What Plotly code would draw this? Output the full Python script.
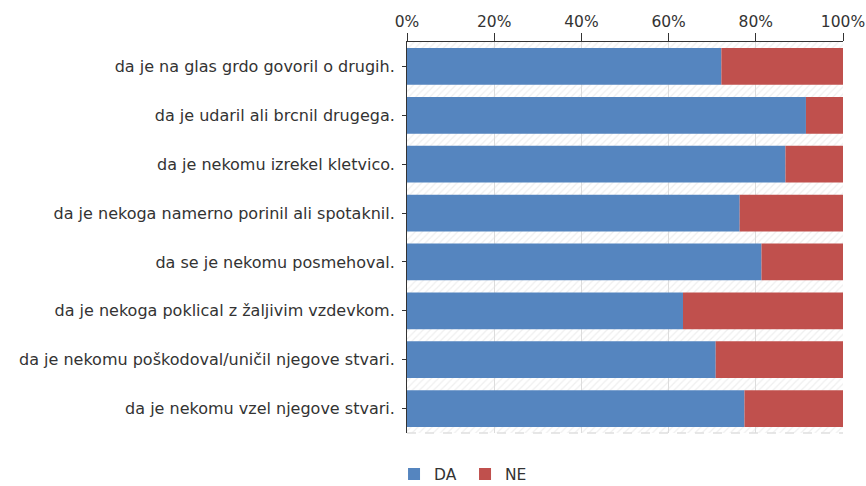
import plotly.graph_objects as go

categories = [
    "da je na glas grdo govoril o drugih.",
    "da je udaril ali brcnil drugega.",
    "da je nekomu izrekel kletvico.",
    "da je nekoga namerno porinil ali spotaknil.",
    "da se je nekomu posmehoval.",
    "da je nekoga poklical z žaljivim vzdevkom.",
    "da je nekomu poškodoval/uničil njegove stvari.",
    "da je nekomu vzel njegove stvari.",
]
da = [72.1, 91.5, 86.8, 76.3, 81.3, 63.3, 70.8, 77.4]
ne = [round(100 - v, 1) for v in da]

C_DA = "#5585BF"
C_NE = "#C0504D"
FONT = "DejaVu Sans"
TXT = "#333333"

fig = go.Figure()

# hatched backdrop visible between the bars
fig.add_trace(go.Bar(
    y=categories, x=[100] * len(categories), orientation="h", width=1,
    marker=dict(color="rgba(0,0,0,0)", line=dict(width=0),
                pattern=dict(shape="/", fgcolor="#e0e0e0", bgcolor="rgba(0,0,0,0)",
                             size=5, solidity=0.25)),
    showlegend=False, hoverinfo="skip"))

fig.add_trace(go.Bar(
    y=categories, x=da, orientation="h", name="DA", width=0.75,
    marker=dict(color=C_DA, line=dict(width=0))))
fig.add_trace(go.Bar(
    y=categories, x=ne, base=da, orientation="h", name="NE", width=0.75,
    marker=dict(color=C_NE, line=dict(width=0))))

fig.add_shape(type="line", xref="paper", yref="paper", x0=0, x1=1, y0=0, y1=0,
              line=dict(color="#cfcfcf", width=1, dash="dash"), layer="below")

fig.update_layout(
    width=866, height=486,
    barmode="overlay",
    paper_bgcolor="white", plot_bgcolor="white",
    margin=dict(l=407, r=23, t=42, b=53),
    font=dict(family=FONT, size=16, color=TXT),
    xaxis=dict(side="top", range=[0, 100], dtick=20, ticksuffix="%",
               showgrid=True, gridcolor="#dcdcdc", gridwidth=1,
               showline=True, linecolor=TXT, linewidth=1,
               ticks="outside", ticklen=8, tickcolor=TXT,
               zeroline=False, fixedrange=True, automargin=False,
               tickfont=dict(family=FONT, size=15.5, color=TXT)),
    yaxis=dict(autorange="reversed", showgrid=False, automargin=False,
               showline=True, linecolor=TXT, linewidth=1, layer="below traces",
               ticks="outside", ticklen=4, tickcolor=TXT,
               ticklabelstandoff=4,
               tickfont=dict(family=FONT, size=16, color=TXT)),
    legend=dict(orientation="h", xref="container", x=0.455, xanchor="left",
                yref="container", y=0.024, yanchor="middle",
                font=dict(family=FONT, size=15.5, color=TXT),
                itemwidth=30, entrywidth=26, traceorder="normal"),
)

fig.write_html("out.html", config={"displayModeBar": False},
               post_script="document.body.style.margin='0';")
